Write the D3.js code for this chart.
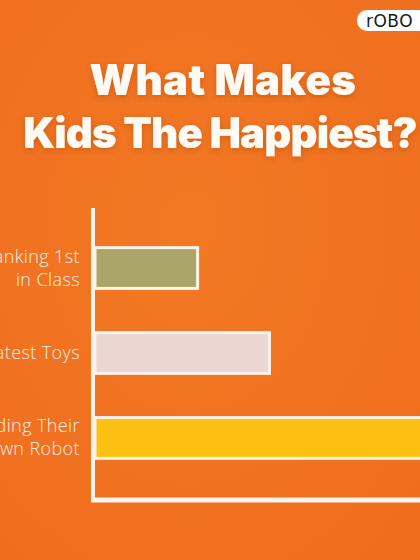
<!DOCTYPE html>
<html>
<head>
<meta charset="utf-8">
<script src="https://cdn.jsdelivr.net/npm/d3@7"></script>
<style>
  html, body { margin: 0; padding: 0; background: #f2731f; }
  svg { display: block; }
</style>
</head>
<body>
<div id="chart"></div>
<script>
// data
const categories = ["Ranking 1st\nin Class", "Latest Toys", "Building Their\nOwn Robot"];
const values = [30, 51, 100];
const barColors = ["#aba567", "#edd6d2", "#fdc011"];
const titleLines = ["What Makes", "Kids The Happiest?"];

const svgWidth = 420;
const svgHeight = 560;

const svg = d3
  .select("#chart")
  .append("svg")
  .attr("width", svgWidth)
  .attr("height", svgHeight);

// background with a faint paper texture
const defs = svg.append("defs");
const grad = defs
  .append("radialGradient")
  .attr("id", "bg")
  .attr("cx", "45%")
  .attr("cy", "40%")
  .attr("r", "75%");
grad.append("stop").attr("offset", "0%").attr("stop-color", "#f37824");
grad.append("stop").attr("offset", "100%").attr("stop-color", "#ef6e1e");

const shadow = defs.append("filter").attr("id", "shadow").attr("x", "-10%").attr("y", "-20%").attr("width", "120%").attr("height", "150%");
shadow
  .append("feDropShadow")
  .attr("dx", 0)
  .attr("dy", 2)
  .attr("stdDeviation", 3)
  .attr("flood-color", "#8a3a08")
  .attr("flood-opacity", 0.35);

svg
  .append("rect")
  .attr("width", svgWidth)
  .attr("height", svgHeight)
  .attr("fill", "url(#bg)");

// logo pill, cut by the right edge
const logo = svg.append("g").attr("id", "logo");
logo
  .append("rect")
  .attr("x", 357)
  .attr("y", 10)
  .attr("width", 90)
  .attr("height", 21)
  .attr("rx", 10)
  .attr("fill", "#ffffff");
logo
  .append("text")
  .attr("x", 366)
  .attr("y", 27)
  .attr("font-family", "'DejaVu Sans', sans-serif")
  .attr("font-size", 17)
  .attr("font-weight", 400)
  .attr("letter-spacing", 0.5)
  .attr("fill", "#1a1a1a")
  .text("rOBO");

// title
svg
  .append("g")
  .attr("id", "title")
  .selectAll("text")
  .data(titleLines)
  .join("text")
  .attr("x", (d, i) => (i === 0 ? 223 : 220))
  .attr("y", (d, i) => 95 + i * 53)
  .attr("text-anchor", "middle")
  .attr("font-family", "Inter, 'Open Sans', sans-serif")
  .attr("font-weight", 900)
  .attr("font-size", 42)
  .attr("letter-spacing", (d, i) => (i === 0 ? 0.4 : -0.9))
  .attr("fill", "#fffaf4")
  .attr("filter", "url(#shadow)")
  .text((d) => d);

// scales
const yScale = d3
  .scaleBand()
  .domain(categories)
  .range([208, 498])
  .paddingInner(0.52)
  .paddingOuter(0.466);

const xScale = d3.scaleLinear().domain([0, 100]).range([95, 437]);

// bars
const data = categories.map((c, i) => ({ cat: c, value: values[i], color: barColors[i] }));

svg
  .append("g")
  .attr("id", "bars")
  .selectAll("rect")
  .data(data)
  .join("rect")
  .attr("x", xScale(0))
  .attr("y", (d) => yScale(d.cat))
  .attr("width", (d) => xScale(d.value) - xScale(0))
  .attr("height", yScale.bandwidth())
  .attr("fill", (d) => d.color)
  .attr("stroke", "#fff4ec")
  .attr("stroke-width", 3);

// axes
const axes = svg.append("g").attr("id", "axes");

axes
  .append("g")
  .attr("transform", `translate(${xScale(0) - 2},0)`)
  .call(d3.axisLeft(yScale).tickSize(0).tickFormat(""))
  .call((g) => g.select(".domain").attr("d", "M0,208V502").attr("stroke", "#fff4ec").attr("stroke-width", 4));

axes
  .append("g")
  .attr("transform", `translate(0,500)`)
  .call(d3.axisBottom(xScale).tickSize(0).tickFormat(""))
  .call((g) => g.select(".domain").attr("d", `M${xScale(0) - 4},0H${svgWidth}`).attr("stroke", "#fff4ec").attr("stroke-width", 5));

// category labels, right aligned against the axis
const labels = svg
  .append("g")
  .attr("id", "labels")
  .selectAll("text")
  .data(data)
  .join("text")
  .attr("text-anchor", "end")
  .attr("font-family", "'Open Sans', sans-serif")
  .attr("font-weight", 300)
  .attr("font-size", 18)
  .attr("letter-spacing", 0.4)
  .attr("fill", "#fdf0e6");

labels.each(function (d) {
  const lines = d.cat.split("\n");
  const mid = yScale(d.cat) + yScale.bandwidth() / 2;
  const lineH = 23;
  const first = mid + 6 - ((lines.length - 1) * lineH) / 2;
  d3.select(this)
    .selectAll("tspan")
    .data(lines)
    .join("tspan")
    .attr("x", 80)
    .attr("y", (l, i) => first + i * lineH)
    .text((l) => l);
});
</script>
</body>
</html>
